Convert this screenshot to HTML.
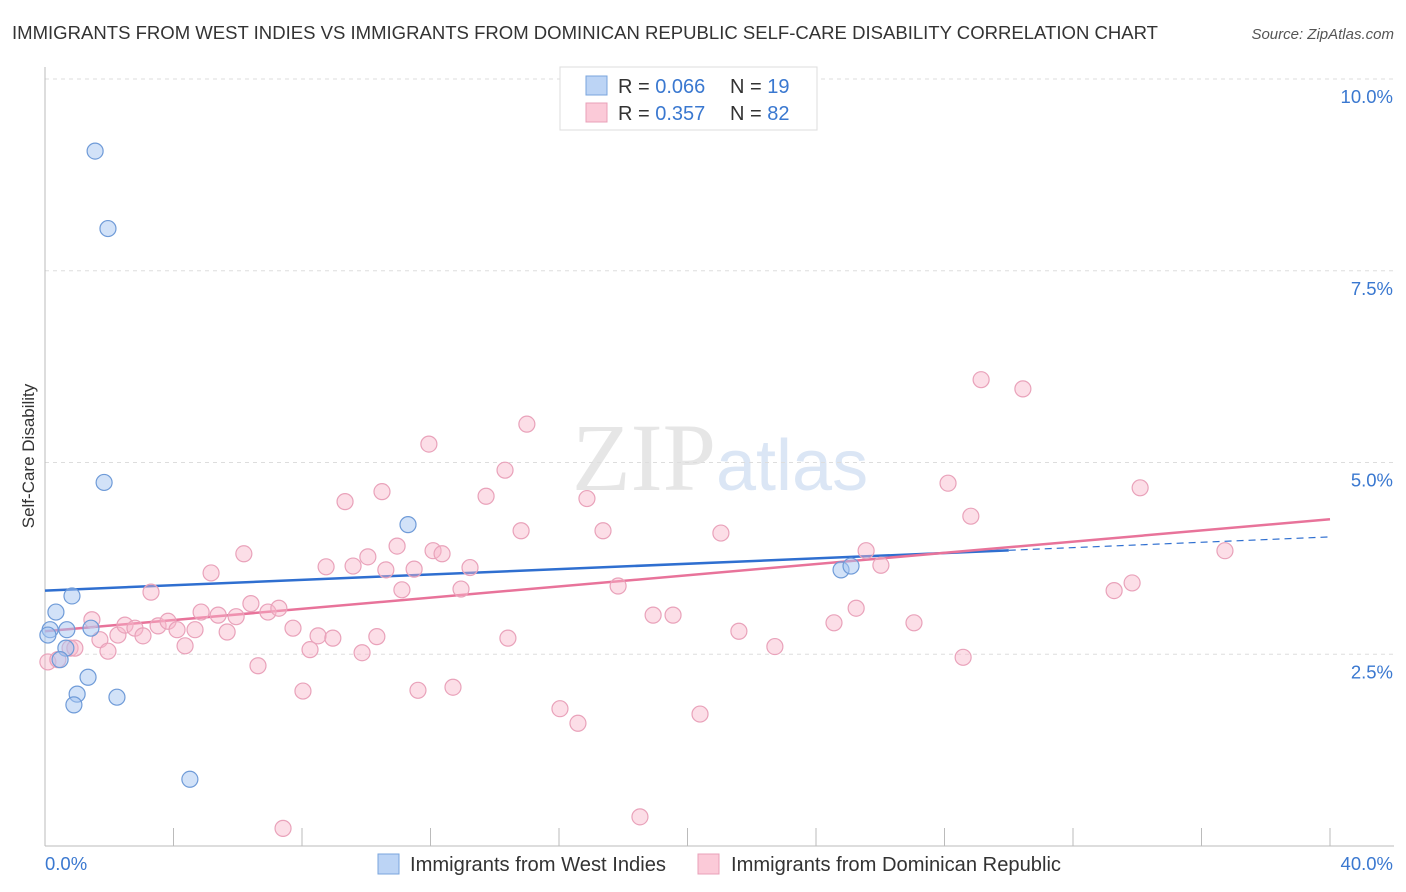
<!DOCTYPE html>
<html><head><meta charset="utf-8"><style>
body{margin:0;background:#fff;font-family:"Liberation Sans",sans-serif;}
svg{display:block}
</style></head><body>
<svg id="chart" width="1406" height="892">
<text x="12" y="39" font-size="18.5" fill="#333" textLength="1146" lengthAdjust="spacingAndGlyphs">IMMIGRANTS FROM WEST INDIES VS IMMIGRANTS FROM DOMINICAN REPUBLIC SELF-CARE DISABILITY CORRELATION CHART</text>
<text x="1394" y="39" font-size="15" fill="#555" font-style="italic" text-anchor="end">Source: ZipAtlas.com</text>
<text x="716" y="490" font-size="96" fill="#e6e6e6" font-family="Liberation Serif,serif" text-anchor="end">ZIP</text>
<text x="716" y="490" font-size="72" fill="#dbe6f5">atlas</text>
<text transform="translate(34,456) rotate(-90)" font-size="17" fill="#333" text-anchor="middle">Self-Care Disability</text>
<g id="grid"></g><g id="axes"></g><g id="trends"></g><g id="points"></g>
<g>
<rect x="560" y="67" width="257" height="63" fill="#fff" stroke="#ddd"/>
<rect x="586" y="76" width="21" height="19" fill="#bcd4f5" stroke="#7aa5dd"/>
<rect x="586" y="103" width="21" height="19" fill="#fbcad8" stroke="#e8a0b8"/>
<text x="618" y="93" font-size="20" fill="#333">R = <tspan fill="#3a78d0">0.066</tspan></text>
<text x="730" y="93" font-size="20" fill="#333">N = <tspan fill="#3a78d0"> 19</tspan></text>
<text x="618" y="120" font-size="20" fill="#333">R = <tspan fill="#3a78d0"> 0.357</tspan></text>
<text x="730" y="120" font-size="20" fill="#333">N = <tspan fill="#3a78d0">82</tspan></text>
</g>
<g>
<rect x="378" y="854" width="21" height="20" fill="#bcd4f5" stroke="#7aa5dd"/>
<text x="410" y="871" font-size="20" fill="#333" textLength="256" lengthAdjust="spacingAndGlyphs">Immigrants from West Indies</text>
<rect x="698" y="854" width="21" height="20" fill="#fbcad8" stroke="#e8a0b8"/>
<text x="731" y="871" font-size="20" fill="#333" textLength="330" lengthAdjust="spacingAndGlyphs">Immigrants from Dominican Republic</text>
</g>
</svg>
<script>
const yTicks=[10,7.5,5,2.5];
const yTickLabels=["10.0%","7.5%","5.0%","2.5%"];
const xEndLabels=["0.0%","40.0%"];
const blueX=[1.56,1.96,1.84,11.3,0.84,0.34,0.16,0.68,1.43,0.65,0.47,1.34,1.0,0.9,2.24,4.51,24.78,25.09,0.09];
const blueY=[9.06,8.05,4.74,4.19,3.26,3.05,2.82,2.82,2.84,2.58,2.43,2.20,1.98,1.84,1.94,0.87,3.60,3.65,2.75];
const pinkX=[0.09,0.40,0.78,0.93,1.46,1.71,1.96,2.27,2.49,2.80,3.05,3.30,3.52,3.83,4.11,4.36,4.67,4.86,5.17,5.39,5.67,5.95,6.19,6.41,6.63,6.94,7.28,7.41,7.72,8.03,8.25,8.50,8.75,8.96,9.34,9.59,9.87,10.05,10.33,10.49,10.61,10.96,11.11,11.49,11.61,11.95,12.08,12.36,12.70,12.95,13.23,13.73,14.32,14.41,14.82,15.00,16.03,16.59,16.87,17.37,17.84,18.52,18.93,19.55,20.39,21.04,21.60,22.72,24.56,25.25,25.56,26.02,27.05,28.11,28.58,28.82,29.14,30.44,33.28,33.84,34.09,36.73];
const pinkY=[2.40,2.43,2.58,2.58,2.95,2.69,2.54,2.75,2.88,2.84,2.74,3.31,2.87,2.93,2.82,2.61,2.82,3.05,3.56,3.01,2.79,2.99,3.81,3.16,2.35,3.05,3.10,0.23,2.84,2.02,2.56,2.74,3.64,2.71,4.49,3.65,2.52,3.77,2.73,4.62,3.60,3.91,3.34,3.61,2.03,5.24,3.85,3.81,2.07,3.35,3.63,4.56,4.90,2.71,4.11,5.50,1.79,1.60,4.53,4.11,3.39,0.38,3.01,3.01,1.72,4.08,2.80,2.60,2.91,3.10,3.85,3.66,2.91,4.73,2.46,4.30,6.08,5.96,3.33,3.43,4.67,3.85];
const blueTrend=[3.33,4.03];
const pinkTrend=[2.80,4.26];
const blueSolidEnd=30.0;
const NS="http://www.w3.org/2000/svg";
const X=v=>45+v*(1285/40);
const Y=v=>846-v*(767/10);
function mk(tag,attrs,parent){const e=document.createElementNS(NS,tag);for(const k in attrs)e.setAttribute(k,attrs[k]);document.getElementById(parent).appendChild(e);return e;}
yTicks.forEach((t,i)=>{
 const g=mk('line',{x1:45,x2:1394,y1:Y(t),y2:Y(t),stroke:'#ddd','stroke-dasharray':'4,4'},'grid');
 
 
 const l=mk('text',{x:1393,y:Y(t)+24,'font-size':18.5,fill:'#3a78d0','text-anchor':'end'},'axes');
 l.textContent=yTickLabels[i];
 
 
});
const ya=mk('line',{x1:45,x2:45,y1:67,y2:846,stroke:'#bbb'},'axes');


const xa=mk('line',{x1:45,x2:1394,y1:846,y2:846,stroke:'#bbb'},'axes');


for(let v=0;v<=40;v+=4){const t=mk('line',{x1:X(v),x2:X(v),y1:828,y2:846,stroke:'#bbb'},'axes');
 
 }
[[0,'start'],[40,'end']].forEach((p,i)=>{const t=mk('text',{x:i?1393:45,y:870,'font-size':18.5,fill:'#3a78d0','text-anchor':p[1]},'axes');t.textContent=xEndLabels[i];
 
 });
const yAt=(tr,x)=>tr[0]+(tr[1]-tr[0])*x/40;
let tl=mk('line',{x1:X(0),y1:Y(blueTrend[0]),x2:X(blueSolidEnd),y2:Y(yAt(blueTrend,blueSolidEnd)),stroke:'#2f6fd0','stroke-width':2.5},'trends');


tl=mk('line',{x1:X(blueSolidEnd),y1:Y(yAt(blueTrend,blueSolidEnd)),x2:X(40),y2:Y(blueTrend[1]),stroke:'#2f6fd0','stroke-width':1.2,'stroke-dasharray':'7,5'},'trends');


tl=mk('line',{x1:X(0),y1:Y(pinkTrend[0]),x2:X(40),y2:Y(pinkTrend[1]),stroke:'#e8739a','stroke-width':2.5},'trends');


pinkX.forEach((x,i)=>{const c=mk('circle',{cx:X(x),cy:Y(pinkY[i]),r:8,fill:'rgba(248,182,202,0.45)',stroke:'#e9a2ba','stroke-width':1.2},'points');
 
 });
blueX.forEach((x,i)=>{const c=mk('circle',{cx:X(x),cy:Y(blueY[i]),r:8,fill:'rgba(165,198,242,0.5)',stroke:'#6f9bd8','stroke-width':1.2},'points');
 
 });
</script>
</body></html>
